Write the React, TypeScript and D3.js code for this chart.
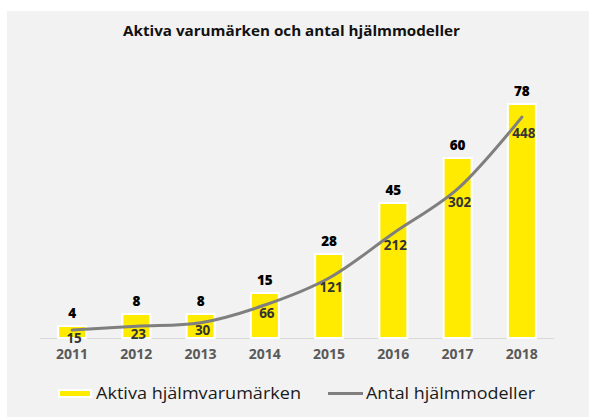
import React from "react";
import * as d3 from "d3";

const years = ["2011", "2012", "2013", "2014", "2015", "2016", "2017", "2018"];
const brands = [4, 8, 8, 15, 28, 45, 60, 78];
const models = [15, 23, 30, 66, 121, 212, 302, 448];
const title = "Aktiva varumärken och antal hjälmmodeller";
const seriesNames = ["Aktiva hjälmvarumärken", "Antal hjälmmodeller"];

const W = 590;
const H = 417;
const base = 338;
const font = "'Open Sans', 'Noto Sans', sans-serif";

export default function App() {
  const x = d3.scaleBand<string>().domain(years).range([40, 554]).padding(0);
  const yBar = d3.scaleLinear().domain([0, 80]).range([base, base - 240]);
  const yLine = d3.scaleLinear().domain([0, 500]).range([base - 0.5, base - 0.5 - 246]);
  const yLab = d3.scaleLinear().domain([0, 500]).range([345.6, 345.6 - 236]);
  const cx = (y: string) => (x(y) ?? 0) + x.bandwidth() / 2;
  const pts: [number, number][] = years.map((y, i) => [cx(y), yLine(models[i])]);
  const line = d3.line().curve(d3.curveCatmullRom.alpha(0.5))(pts) ?? "";
  const barW = 28;

  return (
    <svg width={W} height={H} style={{ position: "absolute", left: 0, top: 0, background: "#fff" }}>
      <rect x={7} y={11} width={582} height={H - 11} fill="#f2f2f2" />
      <text x={123} y={36} textLength={337} lengthAdjust="spacingAndGlyphs" fontFamily={font} fontWeight={700} fontSize={15} fill="#111">
        {title}
      </text>
      <line x1={40} x2={554} y1={base + 0.5} y2={base + 0.5} stroke="#d9d9d9" strokeWidth={1} />
      {years.map((yr, i) => (
        <g key={yr}>
          <rect
            x={cx(yr) - barW / 2}
            y={yBar(brands[i])}
            width={barW}
            height={base - yBar(brands[i])}
            fill="#ffeb00"
            stroke="#ffffff"
            strokeWidth={2}
          />
          <text x={cx(yr)} y={yBar(brands[i]) - 8} textAnchor="middle" fontFamily={font} fontWeight={800} fontSize={13.5} fill="#000">
            {brands[i]}
          </text>
          <text x={cx(yr)} y={base + 21} textAnchor="middle" fontFamily={font} fontWeight={700} fontSize={14} fill="#595959">
            {yr}
          </text>
        </g>
      ))}
      <path d={line} fill="none" stroke="#7f7f7f" strokeWidth={3} strokeLinecap="round" />
      {years.map((yr, i) => (
        <text key={"m" + yr} x={cx(yr) + 2} y={yLab(models[i]) + 4} textAnchor="middle" fontFamily={font} fontWeight={700} fontSize={13.5} fill="#333">
          {models[i]}
        </text>
      ))}
      <g>
        <rect x={59} y={390} width={32} height={7} fill="#ffeb00" stroke="#fff" strokeWidth={2} />
        <text x={96} y={399} textLength={205} lengthAdjust="spacingAndGlyphs" fontFamily={font} fontSize={15.5} fill="#1a1a1a">{seriesNames[0]}</text>
        <line x1={328} x2={363} y1={393.5} y2={393.5} stroke="#7f7f7f" strokeWidth={3} />
        <text x={366} y={399} textLength={169} lengthAdjust="spacingAndGlyphs" fontFamily={font} fontSize={15.5} fill="#1a1a1a">{seriesNames[1]}</text>
      </g>
    </svg>
  );
}
